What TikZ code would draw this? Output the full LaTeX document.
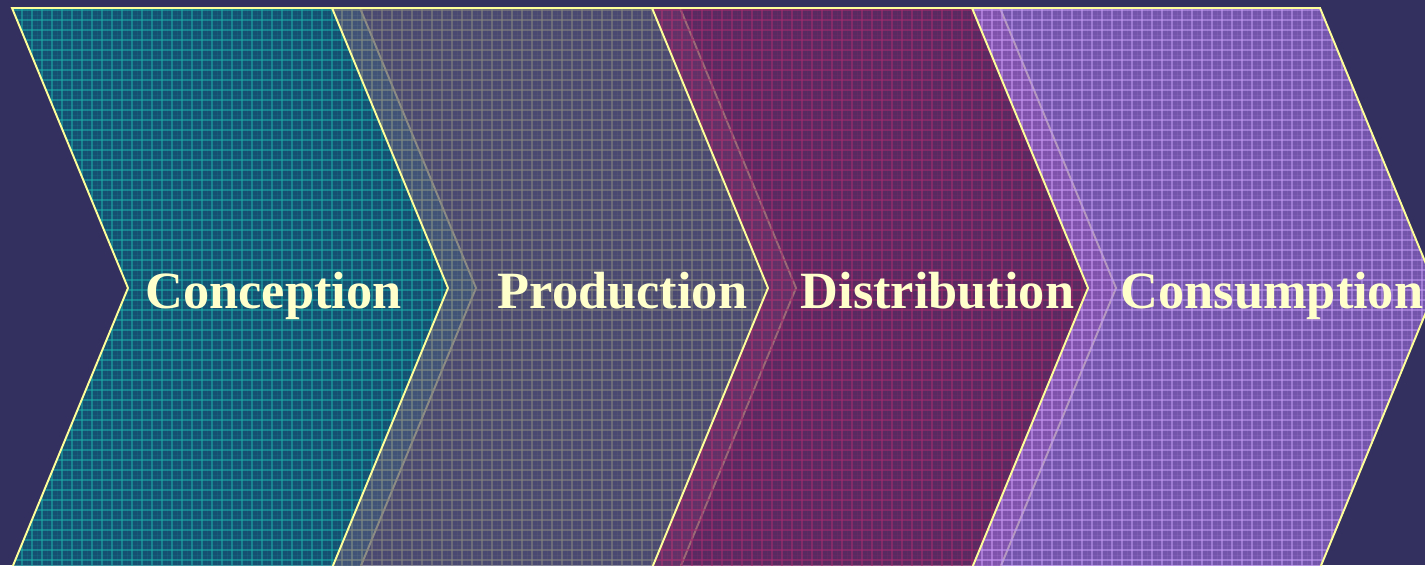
\documentclass[tikz,border=0pt]{standalone}
\usepackage{fontspec}
\setmainfont{Liberation Serif}
\definecolor{bgnavy}{RGB}{51,48,95}
\definecolor{fillA}{RGB}{8,96,124}
\definecolor{fillB}{RGB}{86,86,124}
\definecolor{fillC}{RGB}{108,38,100}
\definecolor{fillD}{RGB}{146,104,208}
\definecolor{gridA}{RGB}{30,175,170}
\definecolor{gridB}{RGB}{135,135,128}
\definecolor{gridC}{RGB}{165,45,110}
\definecolor{gridD}{RGB}{195,155,245}
\definecolor{edgeyellow}{RGB}{255,255,153}
\definecolor{labelcream}{RGB}{255,255,204}
\tikzset{
  outline/.style={draw=edgeyellow, line width=1.1pt, line join=miter},
  gridline/.style={line width=0.6pt, opacity=0.55},
  subgridline/.style={line width=0.35pt, opacity=0.12},
  label/.style={font=\fontsize{29.8}{36}\selectfont\bfseries, text=labelcream, inner sep=0pt, anchor=base}
}
\newcommand\mychev[3]{%
  \begin{scope}
    \clip (#1,8) -- ++(348,0) -- ++(116,280) -- ++(-116,280) -- ++(-348,0) -- ++(116,-280) -- cycle;
    \fill[#2, opacity=0.68] (#1,0) rectangle ++(470,575);
    \foreach \k in {0,10,...,470} {\draw[gridline,#3] (#1+\k,0) -- ++(0,575);}
    \foreach \k in {0,10,...,570} {\draw[gridline,#3] (#1,\k) -- ++(470,0);}
    \foreach \k in {5,15,...,470} {\draw[subgridline,#3] (#1+\k,0) -- ++(0,575);}
    \foreach \k in {5,15,...,570} {\draw[subgridline,#3] (#1,\k) -- ++(470,0);}
  \end{scope}
  \draw[outline] (#1,8) -- ++(348,0) -- ++(116,280) -- ++(-116,280) -- ++(-348,0) -- ++(116,-280) -- cycle;
}
\begin{document}
\begin{tikzpicture}[x=0.02cm,y=-0.02cm]
  \useasboundingbox (0,0) rectangle (1425,565);
  \clip (0,0) rectangle (1425,565);
  \fill[bgnavy] (0,0) rectangle (1425,565);
  \mychev{12}{fillA}{gridA}
  \mychev{332}{fillB}{gridB}
  \mychev{652}{fillC}{gridC}
  \mychev{972}{fillD}{gridD}
  \node[label] (conception) at (273.5,308) {Conception};
  \node[label] (production) at (622.5,308) {Production};
  \node[label] (distribution) at (937.5,308) {Distribution};
  \node[label] (consumption) at (1272,308) {Consumption};
\end{tikzpicture}
\end{document}
